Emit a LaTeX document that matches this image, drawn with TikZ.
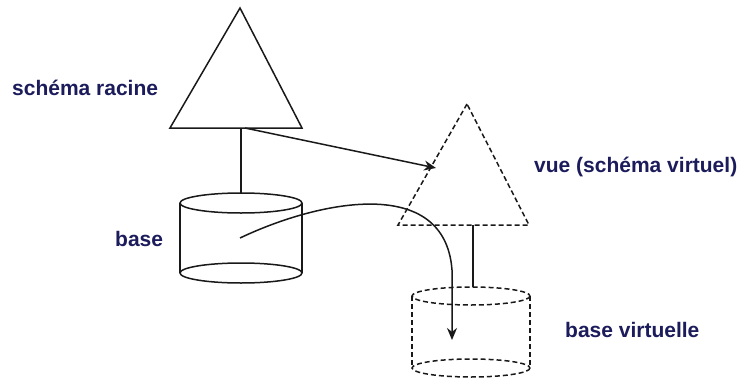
\documentclass[tikz,border=0pt]{standalone}
\usepackage{fontspec}
\setmainfont{Liberation Sans}
\usetikzlibrary{arrows.meta}
\definecolor{labelblue}{RGB}{28,28,92}
\definecolor{ink}{RGB}{25,25,25}
\begin{document}
\begin{tikzpicture}[x=1pt,y=-1pt,
  lbl/.style={anchor=base west,text=labelblue,inner sep=0pt,
    font=\fontsize{21}{24}\selectfont\bfseries},
  solidline/.style={draw=ink,line width=1.5pt},
  dashline/.style={draw=ink,line width=1.5pt,dash pattern=on 5pt off 3pt},
  link/.style={draw=ink,line width=1.5pt},
  arrowlink/.style={link,-{Stealth[length=12pt,width=10pt]}}]
\path[use as bounding box,fill=white] (0,0) rectangle (742,380);

% root schema (solid triangle)
\coordinate (rootapex) at (240,8);
\coordinate (rootleft) at (170,128);
\coordinate (rootright) at (302,128);
\draw[solidline] (rootapex) -- (rootleft) -- (rootright) -- cycle;

% base (solid cylinder)
\draw[solidline] (241,203) ellipse [x radius=61,y radius=10];
\draw[solidline] (241,273) ellipse [x radius=61,y radius=10];
\draw[solidline] (180,203) -- (180,273) (302,203) -- (302,273);

% view (dashed triangle)
\coordinate (viewapex) at (467,104);
\coordinate (viewleft) at (398,225);
\coordinate (viewright) at (529,225);
\draw[dashline] (viewapex) -- (viewleft) -- (viewright) -- cycle;

% virtual base (dashed cylinder)
\draw[dashline] (471,296) ellipse [x radius=59,y radius=9];
\draw[dashline] (471,368) ellipse [x radius=59,y radius=9];
\draw[dashline] (412,296) -- (412,368) (530,296) -- (530,368);

% connector anchors
\coordinate (rootfoot) at (241,128);
\coordinate (basetop) at (241,193);
\coordinate (rootout) at (245,128);
\coordinate (viewin) at (436,168);
\coordinate (viewfoot) at (473,225);
\coordinate (vbasetop) at (473,287);
\coordinate (basein) at (240,238);
\coordinate (bend) at (452,270);
\coordinate (vbasein) at (452,340);

\draw[link] (rootfoot) -- (basetop);
\draw[link] (viewfoot) -- (vbasetop);
\draw[arrowlink] (rootout) -- (viewin);
\draw[arrowlink] (basein) .. controls (320,200) and (445,175) .. (bend) -- (vbasein);

% labels
\node[lbl] (lroot) at (12,95) {schéma racine};
\node[lbl] (lbase) at (115,246) {base};
\node[lbl] (lview) at (534,172) {vue (schéma virtuel)};
\node[lbl] (lvbase) at (565,337) {base virtuelle};
\end{tikzpicture}
\end{document}
